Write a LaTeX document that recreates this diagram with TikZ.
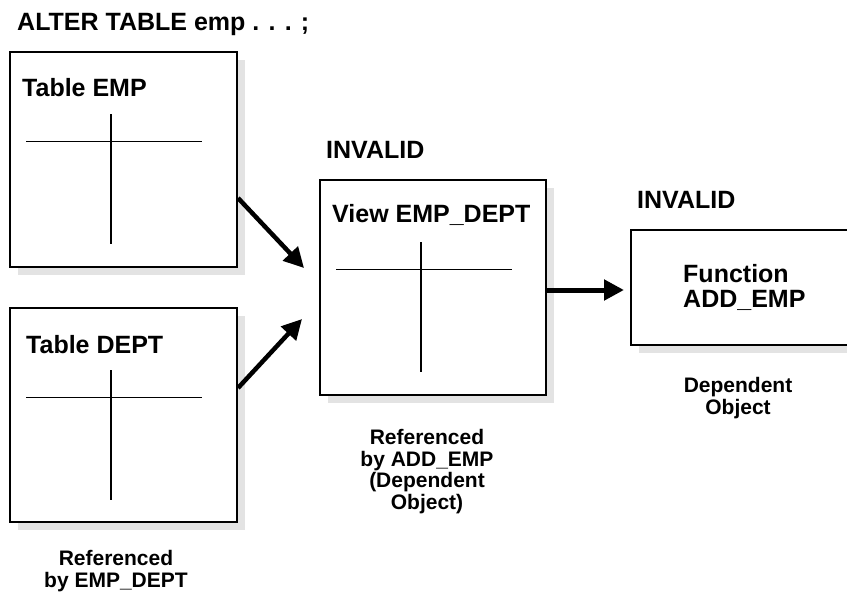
\documentclass[tikz,border=0pt]{standalone}
\usepackage{fontspec}
\setmainfont{Liberation Sans}
\usetikzlibrary{arrows.meta,positioning,calc,shadows}
\definecolor{ShadowGrey}{HTML}{E3E3E3}

\begin{document}
\begin{tikzpicture}[x=1pt,y=-1pt,
    objbox/.style={draw,line width=2pt,fill=white,inner sep=0pt,
                   drop shadow={shadow xshift=8pt,shadow yshift=-8pt,fill=ShadowGrey,opacity=1}},
    head/.style={font=\fontsize{25}{25}\selectfont\bfseries,inner sep=0pt,anchor=base west},
    note/.style={font=\fontsize{21}{21.5}\selectfont\bfseries,align=center,inner sep=0pt,anchor=north},
    crossline/.style={line width=1.8pt},
    flow/.style={->,line width=4.5pt},
    >={Triangle[length=20pt,width=20pt]}
  ]
  \useasboundingbox (0,0) rectangle (847,595);
  \node[head] (alter) at (17,30) {ALTER TABLE emp . . . ;};
  % the three tables/views and the function
  \node[objbox,minimum width=227pt,minimum height=215pt] (emp)  at (123.5,159.5) {};
  \node[objbox,minimum width=227pt,minimum height=214pt] (dept) at (123.5,415) {};
  \node[objbox,minimum width=226pt,minimum height=215pt] (view) at (433,287.5) {};
  \node[objbox,minimum width=240pt,minimum height=115pt] (func) at (751,287.5) {};
  \node[head] (emptitle)  at (22,96)   {Table EMP};
  \node[head] (depttitle) at (26,353)  {Table DEPT};
  \node[head] (viewtitle) at (332,222) {View EMP\_DEPT};
  \node[head,align=left,anchor=north west] (functitle) at (683,264) {Function\\ADD\_EMP};
  \node[head] (viewstate) at (326,158) {INVALID};
  \node[head] (funcstate) at (637,208) {INVALID};
  % column crosses
  \foreach \b in {emp,dept,view}{
    \draw[crossline] ([xshift=17pt,yshift=-90.5pt]\b.north west) -- ++(176,0);
    \draw[crossline] ([xshift=102pt,yshift=-63pt]\b.north west) -- ++(0,130);
  }
  \draw[flow] ([yshift=-38.5pt]emp.east) -- ([xshift=-15pt,yshift=19.5pt]view.west);
  \draw[flow] ([yshift=27pt]dept.east) -- ([xshift=-17pt,yshift=-31.5pt]view.west);
  \draw[flow,line width=5pt] ([yshift=-2.5pt]view.east) -- ([xshift=-6pt,yshift=-2.5pt]func.west);
  % captions
  \node[note] (viewnote) at (427,429.5) {Referenced\\by ADD\_EMP\\(Dependent\\Object)};
  \node[note] (funcnote) at (738,377.5) {Dependent\\Object};
  \node[note] (tblnote)  at (116,550.5) {Referenced\\by EMP\_DEPT};
\end{tikzpicture}
\end{document}
